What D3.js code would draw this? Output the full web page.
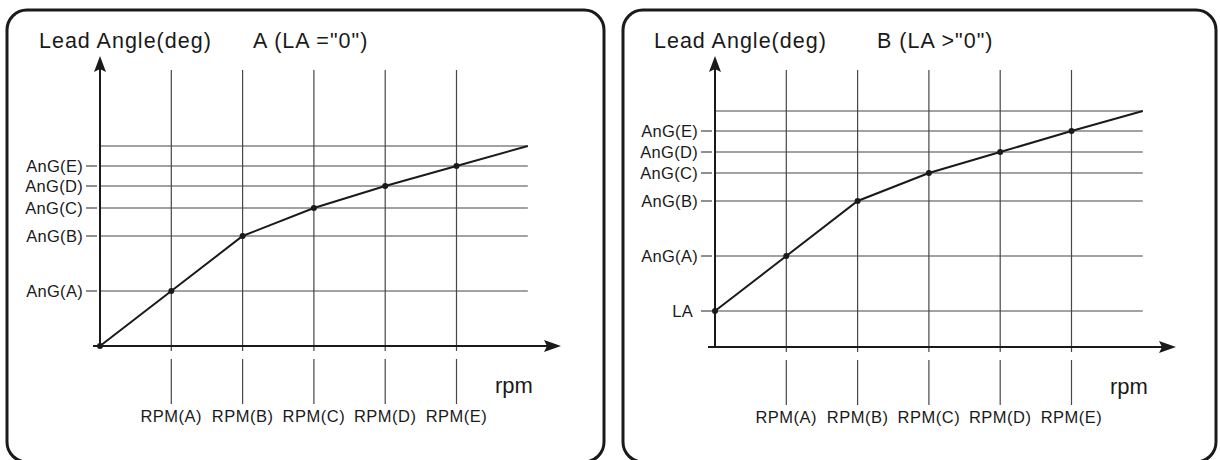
<!DOCTYPE html>
<html>
<head>
<meta charset="utf-8">
<script src="https://cdn.jsdelivr.net/npm/d3@7"></script>
<style>
  html, body { margin: 0; padding: 0; background: #fff; }
  svg { display: block; font-family: "Liberation Sans", Arial, Helvetica, sans-serif; }
</style>
</head>
<body>
<svg id="chart" width="1220" height="460"></svg>
<script>
// Lead angle vs. engine speed: two schedules
const rpmLabels = ["RPM(A)", "RPM(B)", "RPM(C)", "RPM(D)", "RPM(E)"];

// Schedule A: lead angle starts at zero
const angleLabelsA = ["AnG(A)", "AnG(B)", "AnG(C)", "AnG(D)", "AnG(E)"];
const leadA = [0, 55, 110, 138, 160, 180];   // at origin, RPM(A)..RPM(E)
const limitA = 200;                          // upper limit reached past RPM(E)

// Schedule B: lead angle starts at LA > 0
const angleLabelsB = ["LA\u00A0", "AnG(A)", "AnG(B)", "AnG(C)", "AnG(D)", "AnG(E)"];
const leadB = [36, 91, 146, 174, 195, 216];
const limitB = 236;

const svg = d3.select("#chart");
const ink = "#1a1a1a";
const grid = "#474747";

function drawPanel(p) {
  const g = svg.append("g");

  // rounded frame
  g.append("rect")
    .attr("x", p.frame[0]).attr("y", 10)
    .attr("width", p.frame[1] - p.frame[0]).attr("height", 452)
    .attr("rx", 20).attr("ry", 20)
    .attr("fill", "none").attr("stroke", ink).attr("stroke-width", 3);

  const n = p.values.length;           // points at indices 0..n-1, limit at index n
  const x = d3.scaleLinear().domain([0, n]).range([p.x0, p.x0 + 71.3 * n]);
  const y = d3.scaleLinear().domain([0, p.limit]).range([p.y0, p.y0 - p.limit]);

  // vertical gridlines at RPM(A)..RPM(E)
  g.selectAll(".vgrid").data(rpmLabels).join("line")
    .attr("x1", (d, i) => x(i + 1)).attr("x2", (d, i) => x(i + 1))
    .attr("y1", 70).attr("y2", p.y0 + 5)
    .attr("stroke", grid).attr("stroke-width", 1.2);

  // tick stems below axis
  g.selectAll(".vstem").data(rpmLabels).join("line")
    .attr("x1", (d, i) => x(i + 1)).attr("x2", (d, i) => x(i + 1))
    .attr("y1", p.y0 + 13).attr("y2", p.y0 + 58)
    .attr("stroke", grid).attr("stroke-width", 1.2);

  g.selectAll(".rpmlab").data(rpmLabels).join("text")
    .attr("x", (d, i) => x(i + 1)).attr("y", p.y0 + 76)
    .attr("text-anchor", "middle").attr("font-size", 16.5)
    .attr("letter-spacing", 0.5).attr("fill", ink)
    .text(d => d);

  // horizontal gridlines: labelled levels plus the limit
  const levels = p.levels.concat([p.limit]);
  g.selectAll(".hgrid").data(levels).join("line")
    .attr("x1", p.x0).attr("x2", x(n))
    .attr("y1", d => y(d)).attr("y2", d => y(d))
    .attr("stroke", grid).attr("stroke-width", 1.2);

  // y labels with short dash
  g.selectAll(".ylab").data(p.levels).join("text")
    .attr("x", p.x0 - 17).attr("y", d => y(d)).attr("dy", "0.36em")
    .attr("text-anchor", "end").attr("font-size", 16.5)
    .attr("letter-spacing", 0.3).attr("fill", ink)
    .text((d, i) => p.labels[i]);
  g.selectAll(".ydash").data(p.levels).join("line")
    .attr("x1", p.x0 - 14).attr("x2", p.x0 - 3)
    .attr("y1", d => y(d)).attr("y2", d => y(d))
    .attr("stroke", grid).attr("stroke-width", 1.2);

  // axes with arrowheads
  g.append("line")
    .attr("x1", p.x0).attr("x2", p.x0).attr("y1", p.y0).attr("y2", 66)
    .attr("stroke", ink).attr("stroke-width", 2);
  g.append("path")
    .attr("d", `M${p.x0},56 L${p.x0 - 6},72 L${p.x0},69 L${p.x0 + 6},72 Z`)
    .attr("fill", ink);
  g.append("line")
    .attr("x1", p.x0 - 7).attr("x2", p.xTip - 8).attr("y1", p.y0).attr("y2", p.y0)
    .attr("stroke", ink).attr("stroke-width", 2);
  g.append("path")
    .attr("d", `M${p.xTip},${p.y0} L${p.xTip - 17},${p.y0 - 6} L${p.xTip - 14},${p.y0} L${p.xTip - 17},${p.y0 + 6} Z`)
    .attr("fill", ink);

  // lead-angle curve
  const pts = p.values.map((v, i) => [i, v]).concat([[n, p.limit]]);
  g.append("path")
    .attr("d", d3.line().x(d => x(d[0])).y(d => y(d[1]))(pts))
    .attr("fill", "none").attr("stroke", ink).attr("stroke-width", 2);
  g.selectAll(".dot").data(p.values).join("circle")
    .attr("cx", (d, i) => x(i)).attr("cy", d => y(d)).attr("r", 3)
    .attr("fill", ink);

  // titles
  g.append("text").attr("x", p.x0 - 61).attr("y", 48)
    .attr("font-size", 21.5).attr("letter-spacing", 1).attr("fill", ink)
    .text("Lead Angle(deg)");
  g.append("text").attr("x", p.x0 + p.subDx).attr("y", 48)
    .attr("font-size", 21.5).attr("letter-spacing", 1).attr("fill", ink)
    .text(p.subtitle);
  g.append("text").attr("x", p.x0 + 395).attr("y", p.y0 + 47)
    .attr("font-size", 22).attr("fill", ink).text("rpm");
}

drawPanel({
  frame: [7, 604], x0: 100, y0: 346, xTip: 561,
  values: leadA, limit: limitA, levels: leadA.slice(1), labels: angleLabelsA,
  subtitle: "A (LA =\"0\")", subDx: 153
});
drawPanel({
  frame: [623, 1216], x0: 715, y0: 347, xTip: 1176,
  values: leadB, limit: limitB, levels: leadB, labels: angleLabelsB,
  subtitle: "B (LA >\"0\")", subDx: 162
});
</script>
</body>
</html>
